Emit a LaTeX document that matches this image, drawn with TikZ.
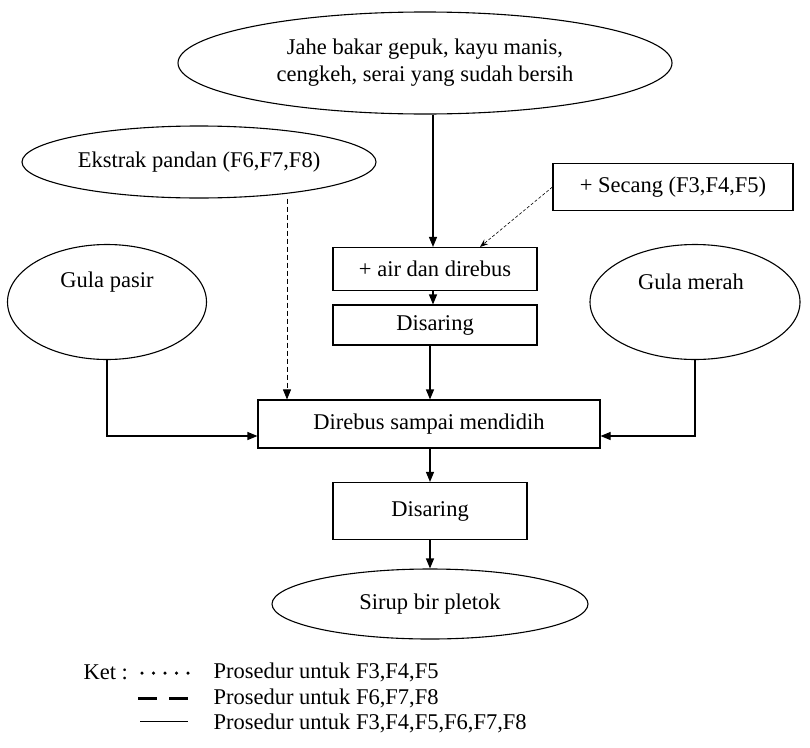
\documentclass[tikz,border=0pt]{standalone}
\usepackage{fontspec}
\setmainfont{Liberation Serif}
\usetikzlibrary{shapes.geometric,arrows.meta}
\begin{document}
\begin{tikzpicture}[x=1pt,y=-1pt,
  every node/.style={font=\fontsize{22.5}{27}\selectfont},
  ell/.style={draw,ellipse,line width=1.1pt,inner sep=0pt,align=center},
  box/.style={draw,rectangle,line width=1.1pt,inner sep=0pt,align=center},
  conn/.style={line width=1.1pt,-{Triangle[length=10pt,width=8pt]}},
  dconn/.style={line width=0.8pt,dash pattern=on 5pt off 3pt,-{Triangle[length=10pt,width=8pt]}},
  fconn/.style={line width=0.6pt,dash pattern=on 3pt off 2pt,-{Stealth[length=8pt,width=6pt]}}]
\useasboundingbox (0,0) rectangle (810,747);
\node[ell,minimum width=494pt,minimum height=102pt] (top) at (425,63) {Jahe bakar gepuk, kayu manis,\\cengkeh, serai yang sudah bersih};
\node[ell,minimum width=354pt,minimum height=72pt] (pandan) at (199,162) {Ekstrak pandan (F6,F7,F8)};
\node[box,minimum width=240pt,minimum height=47pt] (secang) at (673,187) {+ Secang (F3,F4,F5)};
\node[box,minimum width=204pt,minimum height=43pt] (air) at (435,269) {+ air dan direbus};
\node[box,minimum width=204pt,minimum height=40pt] (sar1) at (435,325) {Disaring};
\node[ell,minimum width=199pt,minimum height=115pt,label={[yshift=20pt]center:Gula pasir}] (gp) at (107,302) {};
\node[ell,minimum width=210pt,minimum height=115pt,label={[yshift=20pt,xshift=-4pt]center:Gula merah}] (gm) at (695,302) {};
\node[box,minimum width=342pt,minimum height=48pt] (rebus) at (429,424) {Direbus sampai mendidih};
\node[box,minimum width=194pt,minimum height=57pt] (sar2) at (430,511) {Disaring};
\node[ell,minimum width=316pt,minimum height=70pt] (sirup) at (430,604) {Sirup bir pletok};
\draw[conn] ([xshift=-2pt]air.north |- top.south) -- ([xshift=-2pt]air.north);
\draw[fconn] (secang.west) -- ([xshift=45pt]air.north);
\draw[conn] ([xshift=-2pt]air.south) -- ([xshift=-2pt]sar1.north);
\draw[conn] ([xshift=-5pt]sar1.south) -- ([xshift=-5pt]sar1.south |- rebus.north);
\draw[dconn] (pandan.south -| 287,0) -- (287,0 |- rebus.north);
\draw[conn] (gp.south) |- ([yshift=-12pt]rebus.west);
\draw[conn] (gm.south) |- ([yshift=-12pt]rebus.east);
\draw[conn] (rebus.south -| sar2.north) -- (sar2.north);
\draw[conn] (sar2.south) -- (sirup.north);
% legend
\node[anchor=west] (ket) at (80,672) {Ket :};
\draw[line width=3.5pt,line cap=round,dash pattern=on 0pt off 11.5pt] (142,673) -- (190,673);
\node[anchor=west] (l1) at (210,672) {Prosedur untuk F3,F4,F5};
\draw[line width=3pt,dash pattern=on 19pt off 12pt] (138,698) -- (188,698);
\node[anchor=west] (l2) at (210,698) {Prosedur untuk F6,F7,F8};
\draw[line width=0.8pt] (140,721) -- (188,721);
\node[anchor=west] (l3) at (210,723) {Prosedur untuk F3,F4,F5,F6,F7,F8};
\end{tikzpicture}
\end{document}
